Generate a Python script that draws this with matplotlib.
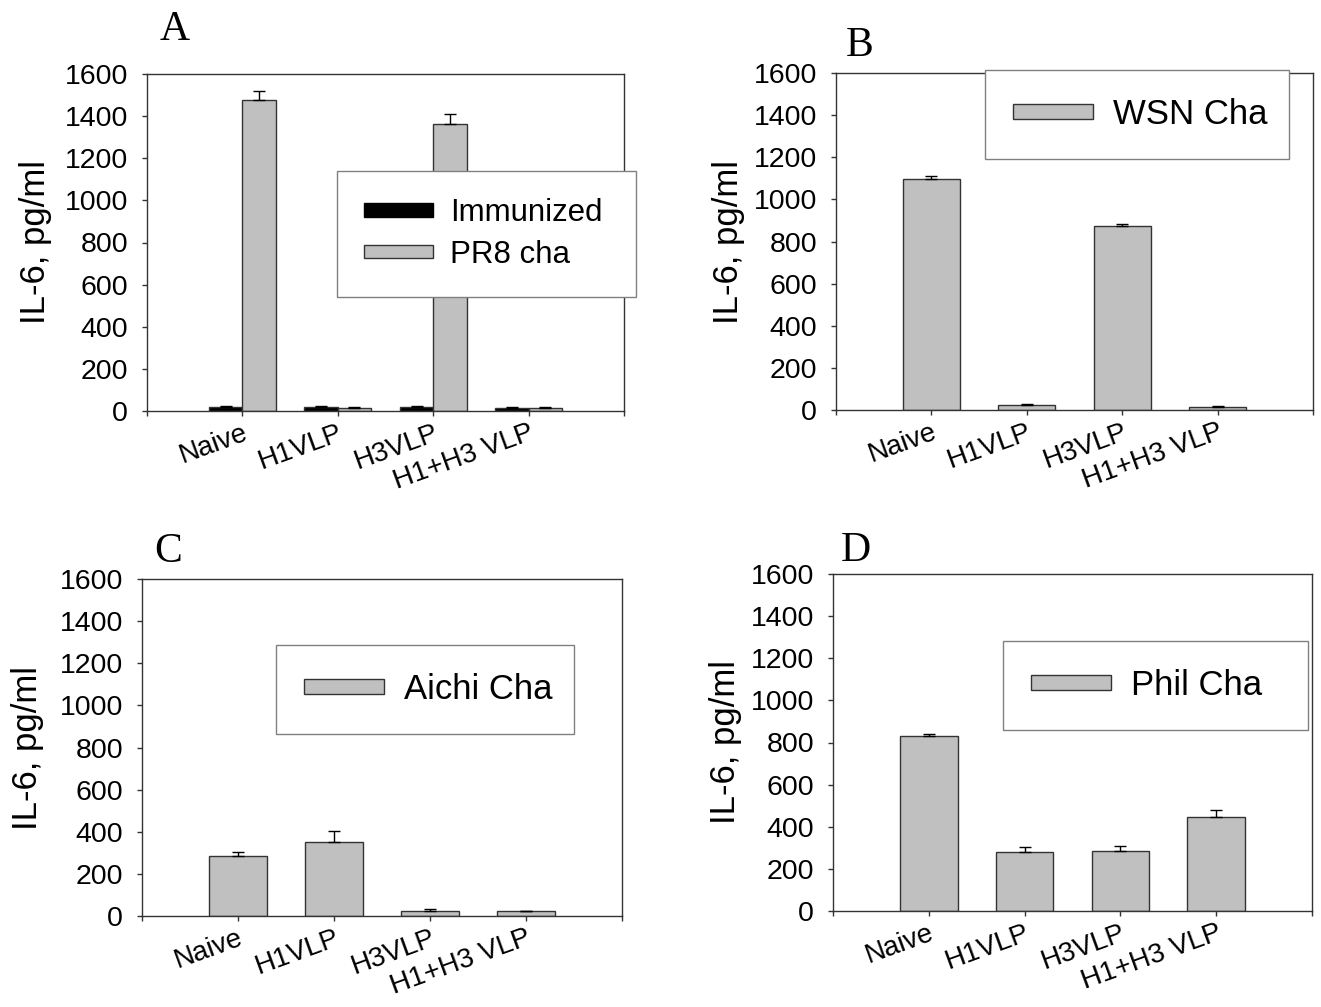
import numpy as np
import matplotlib.pyplot as plt
from matplotlib.patches import Patch

plt.rcParams['font.family'] = ['Liberation Sans', 'DejaVu Sans']

categories = ['Naive', 'H1VLP', 'H3VLP', 'H1+H3 VLP']

# A: immunized vs PR8 challenge
a_immunized = [17, 20, 20, 15]
a_immunized_err = [9, 3, 3, 2]
a_pr8 = [1478, 16, 1362, 15]
a_pr8_err = [42, 3, 50, 3]

# B: WSN challenge
b_wsn = [1097, 25, 874, 16]
b_wsn_err = [12, 2, 8, 4]

# C: Aichi challenge
c_aichi = [287, 351, 25, 22]
c_aichi_err = [18, 52, 7, 3]

# D: Phil challenge
d_phil = [830, 278, 285, 448]
d_phil_err = [8, 26, 25, 30]

GRAY = '#c0c0c0'
EDGE = '#333333'
W, H = 1321, 1007

fig = plt.figure(figsize=(W / 100, H / 100), dpi=100)


def px_axes(x0, y0, x1, y1):
    return fig.add_axes([x0 / W, 1 - y1 / H, (x1 - x0) / W, (y1 - y0) / H])


def style(ax, label_x):
    x = np.arange(1, len(categories) + 1)
    ax.set_xlim(0, len(categories) + 1)
    ax.set_ylim(0, 1600)
    ax.set_yticks(np.arange(0, 1601, 200))
    ax.set_xticks(x)
    ax.set_xticks([0, len(categories) + 1], minor=True)
    ax.set_xticklabels(categories, rotation=20, ha='right', va='top',
                       rotation_mode='anchor')
    ax.tick_params(axis='both', which='both', direction='out', length=3.6,
                   width=1, color=EDGE, labelsize=20)
    ax.tick_params(axis='y', pad=10, labelsize=20.5)
    ax.tick_params(axis='x', pad=3)
    for sp in ax.spines.values():
        sp.set_color(EDGE)
        sp.set_linewidth(1)
    ax.set_ylabel('IL-6, pg/ml', fontsize=25)
    ax.yaxis.set_label_coords(label_x, 0.5)


def gray_bars(ax, vals, err, width=0.6, offset=0.0, color=GRAY):
    x = np.arange(1, len(vals) + 1) + offset
    ax.bar(x, vals, width=width, color=color, edgecolor=EDGE, linewidth=1, zorder=2)
    ax.errorbar(x, vals, yerr=[np.zeros(len(err)), err], fmt='none', ecolor='black',
                elinewidth=1, capsize=4.3, capthick=1, zorder=3)


def add_legend(ax, handles, labels, box, size, pad, spacing=0.3, hlen=2.3, tpad=0.6):
    x0, y0, x1, y1 = box
    leg = ax.legend(handles, labels, loc='upper left', mode='expand',
                    bbox_to_anchor=(x0 / W, 1 - y1 / H, (x1 - x0) / W, (y1 - y0) / H),
                    bbox_transform=fig.transFigure, borderaxespad=0, fancybox=False,
                    framealpha=1, edgecolor='#808080', fontsize=size,
                    handlelength=hlen, handleheight=0.3, handletextpad=tpad,
                    borderpad=pad, labelspacing=spacing)
    leg.get_frame().set_linewidth(1)
    leg.set_zorder(10)


gray_patch = Patch(facecolor=GRAY, edgecolor=EDGE, linewidth=1)
black_patch = Patch(facecolor='black', edgecolor='black', linewidth=1)

# Panel A
axA = px_axes(147, 74, 624, 411)
gray_bars(axA, a_immunized, a_immunized_err, width=0.35, offset=-0.175, color='black')
gray_bars(axA, a_pr8, a_pr8_err, width=0.35, offset=0.175)
style(axA, -0.2)
add_legend(axA, [black_patch, gray_patch], ['Immunized', 'PR8 cha'],
           (337, 171, 636, 297), 22.5, 0.86, spacing=0.38, hlen=2.2, tpad=0.55)

# Panel B
axB = px_axes(836, 73, 1313, 410)
gray_bars(axB, b_wsn, b_wsn_err)
style(axB, -0.19)
add_legend(axB, [gray_patch], ['WSN Cha'], (985, 70, 1289, 159), 25, 0.8)

# Panel C
axC = px_axes(142, 579, 622, 916)
gray_bars(axC, c_aichi, c_aichi_err)
style(axC, -0.204)
add_legend(axC, [gray_patch], ['Aichi Cha'], (276, 645, 574, 736), 25, 0.8)

# Panel D
axD = px_axes(833, 574, 1312, 911)
gray_bars(axD, d_phil, d_phil_err)
style(axD, -0.19)
add_legend(axD, [gray_patch], ['Phil Cha'], (1003, 641, 1308, 734), 25, 0.8)

for letter, (lx, ly) in zip('ABCD', [(175, 40), (860, 56), (168, 562), (856, 561)]):
    fig.text(lx / W, 1 - ly / H, letter, family='Liberation Serif', fontsize=30,
             ha='center', va='baseline')

fig.savefig('out.png', dpi=100)
